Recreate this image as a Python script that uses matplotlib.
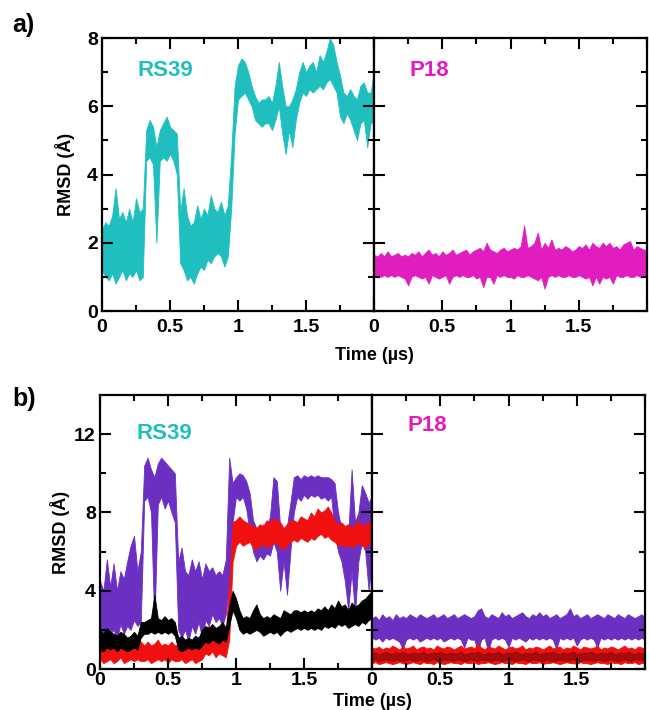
import matplotlib as mpl
import matplotlib.pyplot as plt
import numpy as np

# font : Helvetica-like bold
mpl.rc('font', family=['Liberation Sans', 'DejaVu Sans'], weight='bold')

# time axis (µs) : one reading every 0.025 µs
time_us = np.linspace(0, 2.0, 81)

# ---------------------------------------------------------------- a) RS39 (low / high edge of the trace)
a_rs39_low = [1.2, 1.0, 0.9, 1.1, 0.8, 1.0, 1.2, 0.9, 1.1, 1.0,
              1.2, 0.9, 1.0, 4.4, 4.5, 4.3, 2.0, 4.4, 4.5, 4.4,
              4.6, 4.4, 4.0, 1.4, 1.2, 0.9, 1.0, 0.8, 1.1, 1.3,
              1.2, 1.5, 1.4, 1.6, 1.7, 1.6, 1.3, 1.6, 3.0, 5.2,
              6.2, 6.3, 6.4, 6.2, 6.0, 5.6, 5.5, 5.4, 5.5, 5.5,
              5.3, 5.6, 6.0, 5.2, 4.6, 5.3, 4.8, 5.6, 6.1, 6.4,
              6.3, 6.5, 6.4, 6.5, 6.6, 6.5, 6.7, 6.8, 6.6, 6.4,
              5.7, 5.5, 5.8, 5.6, 5.3, 5.0, 5.5, 5.6, 4.8, 5.5,
              5.6]
a_rs39_high = [2.4, 2.6, 2.5, 2.8, 3.6, 2.7, 2.9, 2.6, 3.0, 2.6,
               3.3, 2.9, 3.0, 5.3, 5.6, 5.4, 4.8, 5.3, 5.5, 5.7,
               5.4, 5.3, 5.2, 2.9, 3.6, 2.8, 2.5, 2.6, 3.1, 2.7,
               3.0, 2.8, 3.4, 3.0, 2.9, 3.2, 2.8, 3.1, 4.6, 6.6,
               7.2, 7.4, 7.3, 7.0, 6.6, 6.3, 6.1, 6.2, 6.2, 6.3,
               6.1, 6.6, 7.3, 6.6, 6.0, 6.0, 6.2, 6.5, 7.0, 7.3,
               7.0, 7.2, 7.3, 7.0, 7.5, 7.3, 7.6, 8.0, 7.8, 7.3,
               6.9, 6.4, 6.3, 6.5, 6.3, 6.2, 6.6, 6.7, 6.4, 6.4,
               7.0]

# ---------------------------------------------------------------- a) P18
a_p18_low = [1.0, 1.05, 1.0, 1.05, 1.0, 1.05, 1.0, 1.05, 1.0, 0.95,
             0.75, 1.0, 1.05, 1.0, 0.95, 1.0, 0.8, 1.05, 1.0, 0.95,
             1.0, 1.05, 0.8, 1.0, 1.05, 1.0, 1.05, 1.0, 1.0, 1.05,
             0.95, 1.0, 0.7, 1.0, 1.0, 0.8, 1.05, 1.0, 1.05, 1.0,
             1.0, 0.95, 1.05, 1.0, 1.0, 1.05, 1.0, 0.95, 0.9, 1.0,
             0.65, 1.0, 1.05, 1.0, 1.05, 1.0, 1.0, 1.05, 1.0, 1.0,
             1.05, 1.0, 0.95, 1.0, 0.75, 1.0, 0.8, 1.0, 0.95, 1.0,
             0.8, 1.05, 1.0, 1.0, 1.05, 1.0, 1.0, 1.05, 1.0, 1.05,
             1.0]
a_p18_high = [1.65, 1.6, 1.7, 1.6, 1.75, 1.6, 1.65, 1.7, 1.6, 1.65,
              1.6, 1.7, 1.65, 1.75, 1.6, 1.7, 1.8, 1.65, 1.7, 1.6,
              1.75, 1.65, 1.7, 1.8, 1.65, 1.7, 1.75, 1.8, 1.65, 1.75,
              1.8, 1.85, 1.75, 2.0, 1.8, 1.75, 1.7, 1.8, 1.85, 1.75,
              1.8, 1.85, 1.8, 1.9, 2.5, 1.85, 1.9, 2.0, 2.3, 1.8,
              2.0, 1.85, 2.1, 1.8, 1.85, 1.8, 1.9, 1.85, 1.75, 1.8,
              1.9, 1.85, 1.95, 1.8, 2.0, 1.9, 1.85, 2.0, 1.9, 2.0,
              1.85, 1.9, 1.8, 1.95, 2.0, 2.05, 1.8, 1.9, 1.85, 1.8,
              1.8]

# ---------------------------------------------------------------- b) RS39 : purple / red / black
b_rs39_purple_low = [2.0, 1.5, 2.2, 1.8, 2.0, 1.5, 2.3, 1.8, 2.2, 2.0,
                     2.5, 2.2, 2.4, 8.6, 8.8, 8.0, 2.2, 8.4, 8.8, 8.2,
                     8.6, 8.0, 7.5, 2.0, 1.6, 2.0, 1.4, 2.2, 1.8, 2.4,
                     1.6, 2.5, 2.2, 2.8, 2.4, 2.6, 2.2, 2.8, 4.5, 7.5,
                     8.8, 8.6, 8.8, 8.2, 7.0, 6.0, 5.5, 5.8, 5.6, 5.9,
                     5.8, 6.5, 6.0, 4.0, 5.5, 3.8, 6.0, 8.0, 8.8, 8.6,
                     8.9, 8.7, 8.9, 8.8, 8.9, 8.7, 8.8, 8.6, 8.8, 7.0,
                     6.0, 5.5, 4.5, 3.0, 5.0, 2.8, 5.5, 6.5, 6.0, 4.0,
                     5.5]
b_rs39_purple_high = [4.5, 4.0, 5.6, 4.2, 5.4, 4.0, 5.0, 4.6, 5.5, 6.3,
                      6.8, 5.0, 6.0, 10.4, 10.8, 10.2, 9.8, 10.5, 10.8, 10.6,
                      10.4, 10.2, 10.0, 5.5, 6.2, 5.0, 4.8, 5.6, 5.0, 5.5,
                      4.6, 5.4, 5.0, 5.2, 4.8, 5.0, 4.8, 5.6, 10.8, 9.5,
                      9.8, 10.0, 9.9, 9.6, 9.0, 7.6, 7.2, 7.0, 7.4, 7.2,
                      7.8, 9.8, 9.6, 7.2, 7.0, 7.3, 8.5, 9.8, 9.9, 9.7,
                      9.9, 9.8, 9.9, 9.8, 9.9, 9.8, 9.8, 9.8, 9.7, 9.5,
                      8.0, 7.2, 7.0, 6.8, 10.2, 7.5, 8.0, 9.4, 9.0, 8.5,
                      8.8]
b_rs39_red_low = [0.5, 0.3, 0.4, 0.5, 0.3, 0.4, 0.6, 0.3, 0.4, 0.5,
                  0.4, 0.5, 0.4, 0.4, 0.5, 0.3, 0.4, 0.5, 0.4, 0.5,
                  0.3, 0.5, 0.4, 0.4, 0.5, 0.3, 0.4, 0.5, 0.3, 0.4,
                  0.5, 0.8, 0.7, 0.9, 0.6, 0.8, 0.7, 0.6, 1.5, 5.5,
                  6.3, 6.5, 6.3, 6.4, 6.5, 6.2, 6.1, 6.3, 6.4, 6.2,
                  6.3, 6.5, 6.4, 6.2, 6.1, 6.3, 6.5, 6.6, 6.5, 6.7,
                  6.6, 6.5, 6.7, 6.6, 6.8, 6.9, 6.7, 6.8, 6.6, 6.5,
                  6.3, 6.4, 6.2, 6.4, 6.2, 6.3, 6.5, 6.3, 6.2, 6.4,
                  6.5]
b_rs39_red_high = [1.9, 1.6, 2.0, 1.7, 1.8, 1.5, 1.8, 1.5, 1.6, 1.4,
                   1.7, 1.5, 1.4, 1.2, 1.4, 1.2, 1.3, 1.5, 1.2, 1.3,
                   1.2, 1.4, 1.2, 1.3, 1.2, 1.3, 1.1, 1.3, 1.2, 1.3,
                   1.4, 2.0, 2.2, 1.9, 2.1, 2.0, 2.2, 1.9, 4.5, 7.5,
                   7.6, 7.8, 7.6, 7.5, 7.4, 7.3, 7.2, 7.4, 7.3, 7.6,
                   7.5, 7.7, 7.6, 7.5, 7.2, 7.4, 7.6, 7.6, 7.5, 7.8,
                   7.7, 7.6, 8.0, 7.8, 8.2, 8.0, 8.1, 8.3, 8.0, 7.6,
                   7.4, 7.5, 7.3, 7.4, 7.2, 7.4, 7.6, 7.3, 7.4, 7.5,
                   7.6]
b_rs39_black_low = [1.0, 0.9, 1.1, 1.0, 1.1, 0.9, 1.1, 1.0, 0.9, 1.0,
                    1.1, 1.0, 1.6, 1.8, 1.8, 1.9, 1.8, 1.9, 1.8, 1.9,
                    1.8, 1.9, 1.7, 1.0, 0.9, 1.0, 1.1, 1.0, 1.1, 1.0,
                    1.2, 1.4, 1.3, 1.5, 1.4, 1.3, 1.5, 1.4, 2.2, 3.0,
                    2.6, 2.0, 1.8, 1.9, 1.8, 1.9, 2.0, 1.9, 1.7, 1.8,
                    1.9, 1.8, 1.9, 1.7, 1.9, 2.0, 1.9, 2.0, 2.1, 2.0,
                    2.1, 2.0, 2.1, 2.0, 2.1, 2.0, 2.2, 2.1, 2.2, 2.1,
                    2.3, 2.2, 2.3, 2.1, 2.2, 2.3, 2.2, 2.4, 2.3, 2.5,
                    2.6]
b_rs39_black_high = [2.0, 1.8, 2.1, 1.9, 1.8, 1.7, 1.9, 1.8, 1.6, 1.7,
                     1.9, 1.7, 2.4, 2.4, 2.5, 2.6, 3.8, 2.6, 2.5, 2.7,
                     2.5, 2.6, 2.4, 1.6, 1.7, 1.5, 1.6, 1.5, 1.7, 1.6,
                     2.0, 2.2, 2.1, 2.3, 2.1, 2.2, 2.4, 2.1, 3.2, 4.0,
                     3.6, 3.0, 2.6, 2.7, 2.6, 3.0, 3.3, 2.8, 2.6, 2.7,
                     2.6, 2.8, 2.7, 2.6, 3.0, 2.9, 2.8, 3.0, 3.0, 2.9,
                     3.0, 2.9, 3.0, 2.9, 3.1, 3.0, 3.2, 3.0, 3.3, 3.1,
                     3.5, 3.2, 3.3, 3.0, 3.4, 3.2, 3.3, 3.5, 3.6, 3.8,
                     4.0]

# ---------------------------------------------------------------- b) P18 : purple / red / black
b_p18_purple_low = [1.6, 1.5, 1.6, 1.4, 1.6, 1.5, 1.6, 1.5, 1.4, 1.0,
                    1.5, 1.6, 1.5, 1.6, 1.4, 1.5, 1.6, 1.5, 1.6, 1.5,
                    1.6, 1.4, 1.5, 1.6, 1.5, 1.6, 1.5, 1.1, 1.6, 1.5,
                    1.5, 0.9, 1.5, 1.6, 0.9, 1.5, 1.6, 1.5, 1.6, 1.5,
                    1.1, 1.6, 1.5, 1.6, 1.5, 1.4, 1.6, 1.5, 1.6, 1.5,
                    1.6, 1.5, 1.6, 1.5, 1.0, 1.6, 1.5, 1.6, 1.5, 1.6,
                    1.2, 1.5, 1.6, 1.5, 1.6, 1.5, 1.1, 1.6, 1.5, 1.6,
                    1.5, 1.6, 1.5, 1.6, 1.5, 1.6, 1.5, 1.6, 1.5, 1.6,
                    1.5]
b_p18_purple_high = [2.6, 2.7, 2.5, 2.8, 2.6, 2.7, 2.5, 2.8, 2.6, 2.7,
                     2.6, 2.8, 2.7, 2.6, 2.8, 2.7, 2.6, 2.7, 2.8, 2.6,
                     2.7, 2.8, 2.6, 2.7, 2.8, 2.6, 2.7, 2.8, 2.7, 2.6,
                     2.7, 3.0, 3.1, 2.7, 2.6, 2.8, 2.7, 2.6, 2.9, 2.7,
                     2.8, 2.6, 2.7, 2.8, 2.9, 2.7, 2.6, 2.8, 2.7, 2.9,
                     2.7, 2.8, 2.6, 2.7, 2.8, 2.6, 2.7, 2.8, 3.1, 2.7,
                     2.8, 2.6, 2.7, 2.8, 2.6, 2.7, 2.8, 2.7, 2.6, 2.8,
                     2.7, 2.6, 2.8, 2.7, 2.6, 2.8, 2.7, 2.6, 2.7, 2.8,
                     2.6]
b_p18_red_low = [0.3, 0.35, 0.25, 0.3, 0.35, 0.3, 0.25, 0.3, 0.35, 0.3,
                 0.25, 0.3, 0.35, 0.3, 0.25, 0.35, 0.3, 0.3, 0.25, 0.35,
                 0.3, 0.25, 0.3, 0.35, 0.3, 0.3, 0.25, 0.35, 0.3, 0.3,
                 0.35, 0.25, 0.3, 0.3, 0.35, 0.3, 0.25, 0.3, 0.35, 0.3,
                 0.3, 0.25, 0.35, 0.3, 0.3, 0.25, 0.35, 0.3, 0.3, 0.35,
                 0.25, 0.3, 0.3, 0.35, 0.3, 0.25, 0.3, 0.35, 0.3, 0.3,
                 0.25, 0.35, 0.3, 0.3, 0.25, 0.3, 0.35, 0.3, 0.3, 0.25,
                 0.35, 0.3, 0.3, 0.25, 0.35, 0.3, 0.3, 0.35, 0.25, 0.3,
                 0.3]
b_p18_red_high = [1.1, 1.05, 1.15, 1.0, 1.1, 1.05, 1.2, 1.1, 1.0, 1.15,
                  1.05, 1.1, 1.2, 1.0, 1.1, 1.15, 1.05, 1.1, 1.0, 1.2,
                  1.1, 1.05, 1.15, 1.1, 1.0, 1.1, 1.2, 1.05, 1.1, 1.15,
                  1.05, 1.3, 1.1, 1.0, 1.15, 1.1, 1.05, 1.2, 1.1, 1.0,
                  1.1, 1.15, 1.05, 1.1, 1.2, 1.0, 1.1, 1.05, 1.15, 1.1,
                  1.0, 1.1, 1.2, 1.05, 1.1, 1.15, 1.0, 1.1, 1.05, 1.2,
                  1.1, 1.0, 1.15, 1.1, 1.05, 1.1, 1.2, 1.0, 1.1, 1.05,
                  1.15, 1.1, 1.0, 1.1, 1.2, 1.05, 1.1, 1.0, 1.15, 1.1,
                  1.05]
b_p18_black_low = [0.45, 0.5, 0.4, 0.45, 0.5, 0.45, 0.4, 0.5, 0.45, 0.4,
                   0.45, 0.5, 0.45, 0.4, 0.5, 0.45, 0.4, 0.45, 0.5, 0.45,
                   0.4, 0.5, 0.45, 0.45, 0.4, 0.5, 0.45, 0.4, 0.45, 0.5,
                   0.45, 0.4, 0.5, 0.45, 0.45, 0.4, 0.5, 0.45, 0.4, 0.45,
                   0.5, 0.45, 0.4, 0.45, 0.5, 0.45, 0.4, 0.5, 0.45, 0.45,
                   0.4, 0.5, 0.45, 0.4, 0.45, 0.5, 0.45, 0.4, 0.45, 0.5,
                   0.45, 0.4, 0.5, 0.45, 0.45, 0.4, 0.5, 0.45, 0.4, 0.45,
                   0.5, 0.45, 0.4, 0.45, 0.5, 0.45, 0.4, 0.5, 0.45, 0.45,
                   0.4]
b_p18_black_high = [0.8, 0.85, 0.75, 0.8, 0.9, 0.8, 0.75, 0.85, 0.8, 0.9,
                    0.8, 0.75, 0.85, 0.8, 0.8, 0.9, 0.75, 0.8, 0.85, 0.8,
                    0.9, 0.8, 0.75, 0.85, 0.8, 0.8, 0.9, 0.75, 0.8, 0.85,
                    0.8, 0.9, 0.8, 0.75, 0.85, 0.8, 0.8, 0.9, 0.75, 0.8,
                    0.85, 0.8, 0.9, 0.8, 0.75, 0.85, 0.8, 0.8, 0.9, 0.75,
                    0.8, 0.85, 0.8, 0.9, 0.8, 0.75, 0.85, 0.8, 0.8, 0.9,
                    0.75, 0.8, 0.85, 0.8, 0.9, 0.8, 0.75, 0.85, 0.8, 0.8,
                    0.9, 0.75, 0.8, 0.85, 0.8, 0.9, 0.8, 0.75, 0.85, 0.8,
                    0.8]

x_tick_labels = ['0', '0.5', '1', '1.5']

CYAN = '#1fbfc0'
MAGENTA = '#e11dbf'
PURPLE = '#6b2fc2'
RED = '#f01010'
BLACK = '#000000'


def draw_band(ax, low, high, color, alpha=1.0):
    'trace drawn as a band between its low and high edge'
    ax.fill_between(time_us, low, high, color=color, lw=0.6, alpha=alpha)


def style_axes(ax, ymax, ymajor, yminor, show_ylabels, xpad):
    'inward ticks on all four sides, bold labels'
    ax.set_xlim(0, 2)
    ax.set_ylim(0, ymax)
    ax.set_xticks([0, 0.5, 1, 1.5, 2])
    ax.set_xticklabels(x_tick_labels + [''])
    ax.set_xticks([0.25, 0.75, 1.25, 1.75], minor=True)
    ax.set_yticks(ymajor)
    ax.set_yticks(yminor, minor=True)
    if not show_ylabels:
        ax.set_yticklabels([])
    ax.tick_params(which='both', direction='in', top=True, right=True, width=1.5, labelsize=14)
    ax.tick_params(which='major', length=8)
    ax.tick_params(which='minor', length=4.5)
    ax.tick_params(axis='x', pad=xpad)
    ax.tick_params(axis='y', pad=3)
    for sp in ax.spines.values():
        sp.set_linewidth(1.6)


fig = plt.figure(figsize=(6.49, 7.10), dpi=100)
W, H = 649, 710

ax_a1 = fig.add_axes([102 / W, 1 - 311 / H, 272 / W, 273 / H])
ax_a2 = fig.add_axes([374 / W, 1 - 311 / H, 273 / W, 273 / H])
ax_b1 = fig.add_axes([100 / W, 1 - 669 / H, 272 / W, 274 / H])
ax_b2 = fig.add_axes([372 / W, 1 - 669 / H, 273 / W, 274 / H])

# a) panels
draw_band(ax_a1, a_rs39_low, a_rs39_high, CYAN)
draw_band(ax_a2, a_p18_low, a_p18_high, MAGENTA)

# b) panels : purple first, then red, black on top
draw_band(ax_b1, b_rs39_purple_low, b_rs39_purple_high, PURPLE)
draw_band(ax_b1, b_rs39_red_low, b_rs39_red_high, RED)
draw_band(ax_b1, b_rs39_black_low, b_rs39_black_high, BLACK)
draw_band(ax_b2, b_p18_purple_low, b_p18_purple_high, PURPLE)
draw_band(ax_b2, b_p18_red_low, b_p18_red_high, RED)
draw_band(ax_b2, b_p18_black_low, b_p18_black_high, BLACK, alpha=0.3)

style_axes(ax_a1, 8, [0, 2, 4, 6, 8], [1, 3, 5, 7], True, 6)
style_axes(ax_a2, 8, [0, 2, 4, 6, 8], [1, 3, 5, 7], False, 6)
style_axes(ax_b1, 14, [0, 4, 8, 12], [2, 6, 10], True, 2)
style_axes(ax_b2, 14, [0, 4, 8, 12], [2, 6, 10], False, 2)

# system names inside the panels
ax_a1.text(0.13, 0.88, 'RS39', transform=ax_a1.transAxes, color=CYAN, fontsize=16, va='center')
ax_a2.text(0.13, 0.88, 'P18', transform=ax_a2.transAxes, color=MAGENTA, fontsize=16, va='center')
ax_b1.text(0.135, 0.86, 'RS39', transform=ax_b1.transAxes, color=CYAN, fontsize=16, va='center')
ax_b2.text(0.13, 0.89, 'P18', transform=ax_b2.transAxes, color=MAGENTA, fontsize=16, va='center')

# axis titles
fig.text(65 / W, 1 - 174 / H, 'RMSD (Å)', rotation=90, ha='center', va='center', fontsize=13)
fig.text(60 / W, 1 - 532 / H, 'RMSD (Å)', rotation=90, ha='center', va='center', fontsize=13)
fig.text(374 / W, 1 - 355 / H, 'Time (µs)', ha='center', va='center', fontsize=13)
fig.text(372 / W, 1 - 702 / H, 'Time (µs)', ha='center', va='center', fontsize=13)

# panel letters
fig.text(12 / W, 1 - 25 / H, 'a)', ha='left', va='center', fontsize=18)
fig.text(12 / W, 1 - 399 / H, 'b)', ha='left', va='center', fontsize=18)

fig.savefig('out.png', dpi=100)
